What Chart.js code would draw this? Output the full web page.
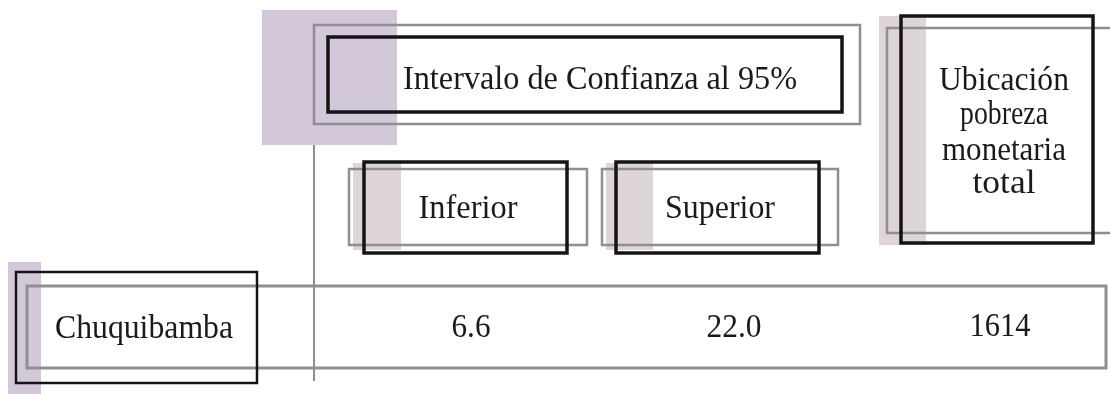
<!DOCTYPE html>
<html>
<head>
<meta charset="utf-8">
<script src="https://cdn.jsdelivr.net/npm/chart.js@4/dist/chart.umd.min.js"></script>
<style>
  html, body { margin: 0; padding: 0; background: #ffffff; }
  #wrap { width: 1110px; height: 394px; }
</style>
</head>
<body>
<div id="wrap"><canvas id="c" width="1110" height="394"></canvas></div>
<script>
// ---- data ----
const groupHeader = ['Intervalo de Confianza al 95%'];
const columnHeaders = ['Inferior', 'Superior'];
const lastHeaderLines = ['Ubicación', 'pobreza', 'monetaria', 'total'];
const rowLabels = ['Chuquibamba'];
const inferior = [6.6];
const superior = [22.0];
const ubicacion = [1614];

// ---- layout (in scale units = page pixels) ----
const PURPLE = '#d3c7da';
const PALE = '#ddd5d8';
const GREY = '#8f8f8f';
const BLACK = '#141414';
const FONT = '"Liberation Serif", "Times New Roman", serif';

const tablePlugin = {
  id: 'tablePlugin',
  afterDraw(chart) {
    const ctx = chart.ctx;
    const sx = chart.scales.x, sy = chart.scales.y;
    const X = v => sx.getPixelForValue(v);
    const Y = v => sy.getPixelForValue(v);
    const fill = (x0, y0, x1, y1, c) => {
      ctx.fillStyle = c;
      ctx.fillRect(X(x0), Y(y0), X(x1) - X(x0), Y(y1) - Y(y0));
    };
    const rect = (x0, y0, x1, y1, c, lw) => {
      ctx.strokeStyle = c; ctx.lineWidth = lw;
      ctx.strokeRect(X(x0), Y(y0), X(x1) - X(x0), Y(y1) - Y(y0));
    };
    const text = (t, cx, base, size, w) => {
      ctx.save();
      ctx.font = size + 'px ' + FONT;
      ctx.fillStyle = '#1a1a1a';
      ctx.textBaseline = 'alphabetic';
      ctx.textAlign = 'center';
      const m = ctx.measureText(t).width;
      const k = w ? w / m : 1;
      ctx.translate(X(cx), Y(base));
      ctx.scale(k, 1);
      ctx.fillText(t, 0, 0);
      ctx.restore();
    };
    ctx.save();
    // background bands
    fill(262, 10, 397, 145, PURPLE);
    fill(8, 262, 41, 394, PURPLE);
    fill(353, 163, 401, 250, PALE);
    fill(606, 163, 653, 250, PALE);
    fill(879, 16, 926, 245, PALE);

    // vertical divider
    ctx.strokeStyle = GREY; ctx.lineWidth = 2;
    ctx.beginPath(); ctx.moveTo(X(314), Y(145)); ctx.lineTo(X(314), Y(381)); ctx.stroke();

    // group header
    rect(314, 25, 860, 124, GREY, 2.5);
    rect(328, 37, 842, 112, BLACK, 3.5);
    text(groupHeader[0], 600, 89, 34, 394);

    // column headers
    rect(349, 169, 587, 245, GREY, 2.5);
    rect(364, 162, 567, 253, BLACK, 3.5);
    text(columnHeaders[0], 468, 218, 34, 99);

    rect(602, 169, 838, 245, GREY, 2.5);
    rect(616, 162, 819, 253, BLACK, 3.5);
    text(columnHeaders[1], 720, 218, 34, 110);

    rect(887, 28, 1112, 233, GREY, 2.5);
    rect(901, 16, 1093, 243, BLACK, 3.5);
    const lineBases = [90, 124, 160, 193];
    const lineW = [130, 88, 124, 63];
    lastHeaderLines.forEach((l, i) => text(l, 1004, lineBases[i], 34, lineW[i]));

    // data row
    rect(27, 286, 1106, 368, GREY, 3);
    rect(16, 272, 257, 383, BLACK, 2.5);
    rowLabels.forEach((r, i) => {
      text(r, 144, 338, 33, 178);
      text(inferior[i].toFixed(1), 471, 337, 33, 39);
      text(superior[i].toFixed(1), 734, 337, 33, 55);
      text(String(ubicacion[i]), 1000, 336, 33, 61);
    });
    ctx.restore();
  }
};

new Chart(document.getElementById('c'), {
  type: 'scatter',
  data: { datasets: [{ data: [], pointRadius: 0 }] },
  options: {
    responsive: false,
    animation: false,
    layout: { padding: 0 },
    plugins: { legend: { display: false }, tooltip: { enabled: false } },
    scales: {
      x: { type: 'linear', min: 0, max: 1110, display: false },
      y: { type: 'linear', min: 0, max: 394, reverse: true, display: false }
    }
  },
  plugins: [tablePlugin]
});
</script>
</body>
</html>
